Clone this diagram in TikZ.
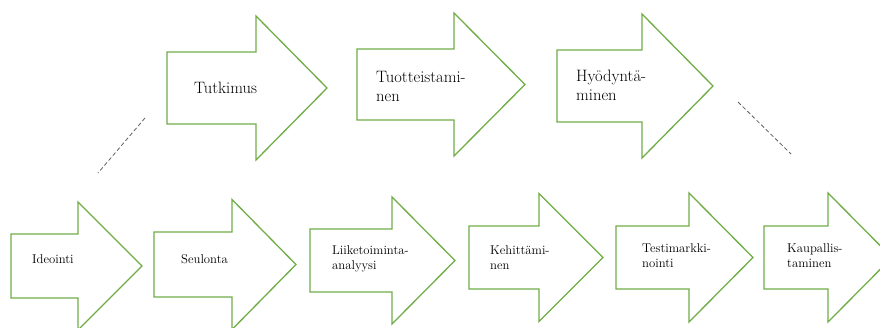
\documentclass[tikz,border=0pt]{standalone}
\usepackage{xcolor}
\definecolor{stagegreen}{HTML}{70AD47}
\definecolor{linkgray}{HTML}{606060}
\tikzset{
  stage/.style={draw=stagegreen, line width=1.3pt, line join=miter, fill=white},
  % multi-line labels are placed by the baseline of their last line
  phaselabel/.style={font=\fontsize{16.5}{19}\selectfont, align=left, inner sep=0pt, anchor=base west},
  steplabel/.style={font=\fontsize{12.7}{15}\selectfont, align=left, inner sep=0pt, anchor=base west},
  link/.style={draw=linkgray, line width=0.8pt, dash pattern=on 4pt off 2.5pt}
}
% block arrow: left x, head base x, tip x, centre y, half shaft, half head
\newcommand\stagearrow[6]{%
  \draw[stage] (#1,#4-#5) -- (#2,#4-#5) -- (#2,#4-#6) -- (#3,#4)
    -- (#2,#4+#6) -- (#2,#4+#5) -- (#1,#4+#5) -- cycle;}
\begin{document}
\begin{tikzpicture}[x=1pt,y=-1pt]
  \useasboundingbox (0,0) rectangle (880,327);
  \clip (0,0) rectangle (880,327);
  \fill[white] (0,0) rectangle (880,327);

  % main phases
  \stagearrow{167}{256}{327}{88}{36}{72}
  \stagearrow{357}{454}{525}{84.5}{35.5}{71.5}
  \stagearrow{557}{642}{713}{86}{36}{72}

  % detailed steps
  \stagearrow{11}{78}{142}{266}{32}{64}
  \stagearrow{154}{232}{296}{264.5}{32.5}{65}
  \stagearrow{310}{392}{455}{260.5}{31.5}{63.5}
  \stagearrow{469}{539}{603}{257.5}{31.5}{64}
  \stagearrow{616}{689}{753}{257.5}{31.5}{64.5}
  \stagearrow{764}{828}{892}{257.5}{31.5}{64.5}

  % phase labels
  \node[phaselabel] (tutkimus) at (194,93) {Tutkimus};
  \node[phaselabel] (tuotteistaminen) at (376,101.5) {Tuotteistami-\\nen};
  \node[phaselabel] (hyodyntaminen) at (576,100.5) {Hyödyntä-\\minen};

  % step labels
  \node[steplabel] (ideointi) at (32,263) {Ideointi};
  \node[steplabel] (seulonta) at (181,263) {Seulonta};
  \node[steplabel] (liiketoiminta) at (332,269) {Liiketoiminta-\\analyysi};
  \node[steplabel] (kehittaminen) at (490,269) {Kehittämi-\\nen};
  \node[steplabel] (testimarkkinointi) at (642,267.5) {Testimarkki-\\nointi};
  \node[steplabel] (kaupallistaminen) at (787,267) {Kaupallis-\\taminen};

  % dashed guides from the phases down to the steps
  \coordinate (guideLtop) at (145,118);
  \coordinate (guideLbot) at (98,173);
  \coordinate (guideRtop) at (738,102);
  \coordinate (guideRbot) at (791,154);
  \draw[link] (guideLtop) -- (guideLbot);
  \draw[link] (guideRtop) -- (guideRbot);
\end{tikzpicture}
\end{document}
